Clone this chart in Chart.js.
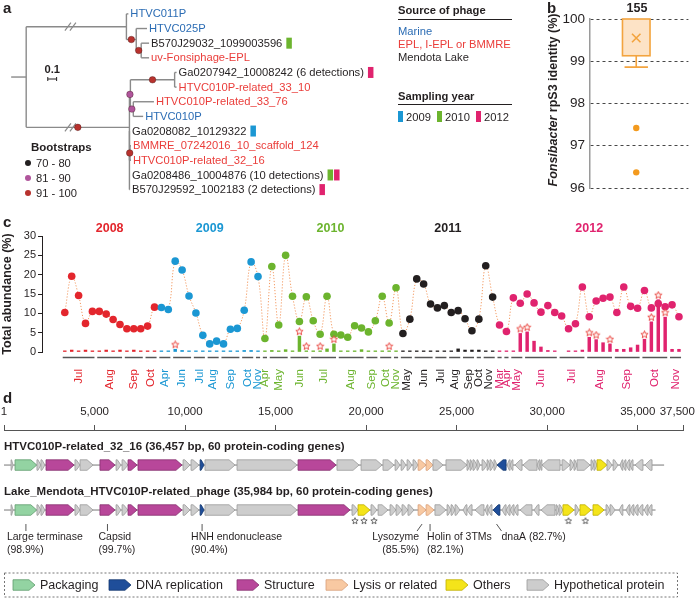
<!DOCTYPE html>
<html>
<head>
<meta charset="utf-8">
<script src="https://cdn.jsdelivr.net/npm/chart.js@4.4.1/dist/chart.umd.min.js"></script>
<style>
  body { margin: 0; background: #fff; }
  #fig { position: relative; width: 696px; height: 601px; overflow: hidden; font-family: "Liberation Sans", Arial, sans-serif; color: #231f20; }
  #fig canvas { position: absolute; }
  .tx { position: absolute; white-space: nowrap; line-height: 14px; font-size: 11.2px; }
  .bd { font-weight: bold; }
  .pl { font-weight: bold; font-size: 15px; }
  .rule { position: absolute; height: 0; border-top: 1px solid #231f20; }
  .sw { position: absolute; width: 5px; height: 11px; }
  .dot { position: absolute; width: 6px; height: 6px; border-radius: 50%; }
</style>
</head>
<body>
<div id="fig">
  <canvas id="treeChart" width="540" height="215" style="left:0;top:0"></canvas>
  <canvas id="boxChart" width="156" height="215" style="left:540px;top:0"></canvas>
  <canvas id="abundChart" width="696" height="185" style="left:0;top:215px"></canvas>
  <canvas id="genomeChart" width="696" height="206" style="left:0;top:395px"></canvas>

  <div class="tx pl" style="left:3px;top:1px">a</div>
  <div class="tx pl" style="left:547px;top:1px">b</div>
  <div class="tx pl" style="left:3px;top:215px">c</div>
  <div class="tx pl" style="left:3px;top:391px">d</div>

  <div class="tx bd" style="left:398px;top:3px">Source of phage</div>
  <div class="rule" style="left:398px;top:19px;width:114px"></div>
  <div class="tx" style="left:398px;top:24px;color:#2b6cb4">Marine</div>
  <div class="tx" style="left:398px;top:37px;color:#ea3d3a">EPL, I-EPL or BMMRE</div>
  <div class="tx" style="left:398px;top:50px">Mendota Lake</div>
  <div class="tx bd" style="left:398px;top:89px">Sampling year</div>
  <div class="rule" style="left:398px;top:104px;width:114px"></div>
  <div class="sw" style="left:398px;top:111px;background:#1b97d3"></div>
  <div class="tx" style="left:406px;top:110px">2009</div>
  <div class="sw" style="left:437px;top:111px;background:#6cb42e"></div>
  <div class="tx" style="left:445px;top:110px">2010</div>
  <div class="sw" style="left:476px;top:111px;background:#e0236e"></div>
  <div class="tx" style="left:484px;top:110px">2012</div>

  <div class="tx bd" style="left:31px;top:140px;font-size:11.5px">Bootstraps</div>
  <div class="dot" style="left:25px;top:160px;background:#231f20"></div>
  <div class="tx" style="left:36px;top:156px">70 - 80</div>
  <div class="dot" style="left:25px;top:175px;background:#b0559c"></div>
  <div class="tx" style="left:36px;top:171px">81 - 90</div>
  <div class="dot" style="left:25px;top:190px;background:#b8322e"></div>
  <div class="tx" style="left:36px;top:186px">91 - 100</div>

  <div class="tx bd" style="left:625px;top:1px;width:24px;text-align:center;font-size:12.5px">155</div>
  <div class="tx bd" style="left:453px;top:93px;width:200px;text-align:center;font-size:12.5px;transform:rotate(-90deg)"><i>Fonsibacter</i> rpS3 identity (%)</div>

  <div class="tx bd" style="left:4px;top:439px;font-size:11.5px">HTVC010P-related_32_16 (36,457 bp, 60 protein-coding genes)</div>
  <div class="tx bd" style="left:4px;top:484px;font-size:11.5px">Lake_Mendota_HTVC010P-related_phage (35,984 bp, 60 protein-coding genes)</div>
</div>

<script>
Chart.defaults.font.family = '"Liberation Sans", Arial, sans-serif';
Chart.defaults.color = '#231f20';

// ---------- a: phylogeny ----------
const tipNames = ['HTVC011P', 'HTVC025P', 'B570J29032_1099003596', 'uv-Fonsiphage-EPL',
  'Ga0207942_10008242 (6 detections)', 'HTVC010P-related_33_10', 'HTVC010P-related_33_76', 'HTVC010P',
  'Ga0208082_10129322', 'BMMRE_07242016_10_scaffold_124', 'HTVC010P-related_32_16',
  'Ga0208486_10004876 (10 detections)', 'B570J29592_1002183 (2 detections)'];
const tipSource = [0, 0, 2, 1, 2, 1, 1, 0, 2, 1, 1, 2, 2];
const tipYears = [[], [], [2010], [], [2012], [], [], [], [2009], [], [], [2010, 2012], [2012]];
const sourceColors = ['#2b6cb4', '#ea3d3a', '#231f20'];
const sampleYearColors = {2009: '#1b97d3', 2010: '#6cb42e', 2012: '#e0236e'};
const bootColors = ['', '#231f20', '#b0559c', '#b8322e'];

// branch lengths; boot: 1 = 70-80, 2 = 81-90, 3 = 91-100
const tree = {len: 0, kids: [
  {len: 1.133, kids: [
    {len: 0.022, tip: 0},
    {len: 0.111, boot: 3, kids: [
      {len: 0.122, tip: 1},
      {len: 0.056, boot: 3, kids: [{len: 0.089, tip: 2}, {len: 0.089, tip: 3}]}
    ]}
  ]},
  {len: 1.167, boot: 3, kids: [
    {len: 0.011, boot: 2, kids: [
      {len: 0.5, boot: 3, kids: [{len: 0.022, tip: 4}, {len: 0.022, tip: 5}]},
      {len: 0.033, boot: 2, kids: [{len: 0.233, tip: 6}, {len: 0.111, tip: 7}]}
    ]},
    {len: 0, kids: [
      {len: 0.006, tip: 8},
      {len: 0.006, boot: 3, kids: [{len: 0.011, tip: 9}, {len: 0.011, tip: 10}]},
      {len: 0.006, tip: 11},
      {len: 0.006, tip: 12}
    ]}
  ]}
]};

function layoutTree(n, x0) {
  n.x = x0 + n.len;
  if (n.kids) {
    n.kids.forEach(k => layoutTree(k, n.x));
    n.y = (n.kids[0].y + n.kids[n.kids.length - 1].y) / 2;
  } else {
    n.y = n.tip;
  }
}
layoutTree(tree, 0);

const bootDots = [];
(function collect(n, px) {
  if (n.boot) bootDots.push({x: (px + n.x) / 2, y: n.y, b: n.boot});
  (n.kids || []).forEach(k => collect(k, n.x));
})(tree, 0);

const treePlugin = {
  id: 'treeDraw',
  beforeDatasetsDraw(chart) {
    const {ctx, scales: {x, y}} = chart;
    const seg = (x1, y1, x2, y2) => { ctx.beginPath(); ctx.moveTo(x1, y1); ctx.lineTo(x2, y2); ctx.stroke(); };
    ctx.save();
    ctx.strokeStyle = '#8a8a8a';
    ctx.lineWidth = 1.4;
    const ry = y.getPixelForValue(tree.y);
    seg(x.getPixelForValue(-0.17), ry, x.getPixelForValue(0), ry);
    (function walk(n, px) {
      const X = x.getPixelForValue(n.x), Y = y.getPixelForValue(n.y);
      if (px !== null) seg(x.getPixelForValue(px), Y, X, Y);
      if (n.len > 1) {
        const bx = x.getPixelForValue(px + 0.5);
        ctx.save(); ctx.lineWidth = 1.2;
        [-2.5, 2.5].forEach(d => seg(bx + d - 3, Y + 4, bx + d + 3, Y - 4));
        ctx.restore();
      }
      if (n.kids) {
        seg(X, y.getPixelForValue(n.kids[0].y), X, y.getPixelForValue(n.kids[n.kids.length - 1].y));
        n.kids.forEach(k => walk(k, n.x));
      } else {
        ctx.save();
        ctx.font = '11.2px "Liberation Sans", Arial, sans-serif';
        ctx.textBaseline = 'middle';
        ctx.fillStyle = sourceColors[tipSource[n.tip]];
        ctx.fillText(tipNames[n.tip], X + 2, Y + 0.5);
        let bx = X + 2 + ctx.measureText(tipNames[n.tip]).width + 4;
        tipYears[n.tip].forEach(yr => {
          ctx.fillStyle = sampleYearColors[yr];
          ctx.fillRect(bx, Y - 5.5, 5.5, 11);
          bx += 6.5;
        });
        ctx.restore();
      }
    })(tree, null);
    // scale bar 0.1
    const s0 = x.getPixelForValue(0.244), s1 = x.getPixelForValue(0.344), sy = 79;
    ctx.strokeStyle = '#231f20'; ctx.lineWidth = 1;
    seg(s0, sy, s1, sy); seg(s0, sy - 2, s0, sy + 2); seg(s1, sy - 2, s1, sy + 2);
    ctx.fillStyle = '#231f20';
    ctx.font = 'bold 11.2px "Liberation Sans", Arial, sans-serif';
    ctx.textAlign = 'center'; ctx.textBaseline = 'middle';
    ctx.fillText('0.1', (s0 + s1) / 2, 70);
    ctx.restore();
  }
};

new Chart('treeChart', {
  type: 'scatter',
  data: {datasets: [{
    data: bootDots,
    pointRadius: 3.3,
    pointBackgroundColor: bootDots.map(d => bootColors[d.b]),
    pointBorderColor: 'rgba(60,20,20,0.6)',
    pointBorderWidth: 0.6
  }]},
  options: {
    responsive: false, animation: false, events: [],
    layout: {padding: 0},
    plugins: {legend: {display: false}, tooltip: {enabled: false}},
    scales: {
      x: {type: 'linear', display: false, min: -0.244, max: 5.756},
      y: {type: 'linear', display: false, min: -0.634, max: 13.42, reverse: true}
    }
  },
  plugins: [treePlugin]
});

// ---------- b: rpS3 identity box plot ----------
const boxQuartiles = [99.13, 100];
const boxWhiskers = [98.86, 100];
const boxMean = [99.55];
const boxOutliers = [97.42, 96.37];
const boxColor = '#f3a43f';

const boxPlugin = {
  id: 'boxDraw',
  beforeDatasetsDraw(chart) {
    const {ctx, scales: {x, y}} = chart;
    const cx = x.getPixelForValue(0.47), hw = x.getPixelForValue(0.61) - cx, cap = hw * 0.85;
    const top = y.getPixelForValue(boxQuartiles[1]), bot = y.getPixelForValue(boxQuartiles[0]);
    const wl = y.getPixelForValue(boxWhiskers[0]);
    ctx.save();
    ctx.strokeStyle = boxColor; ctx.lineWidth = 1.6;
    ctx.beginPath(); ctx.moveTo(cx, bot); ctx.lineTo(cx, wl); ctx.moveTo(cx - cap, wl); ctx.lineTo(cx + cap, wl); ctx.stroke();
    ctx.fillStyle = '#fde3c6';
    ctx.fillRect(cx - hw, top, hw * 2, bot - top);
    ctx.strokeRect(cx - hw, top, hw * 2, bot - top);
    ctx.restore();
  }
};

new Chart('boxChart', {
  type: 'scatter',
  data: {datasets: [
    {data: boxOutliers.map(v => ({x: 0.47, y: v})), pointRadius: 3.2, pointBackgroundColor: '#f39a1e', pointBorderWidth: 0},
    {data: boxMean.map(v => ({x: 0.47, y: v})), pointStyle: 'crossRot', pointRadius: 6, pointBorderColor: boxColor, pointBorderWidth: 1.6}
  ]},
  options: {
    responsive: false, animation: false, events: [],
    layout: {padding: {top: 19, bottom: 27, left: 0, right: 6}},
    plugins: {legend: {display: false}, tooltip: {enabled: false}},
    scales: {
      x: {type: 'linear', display: false, min: 0, max: 1},
      y: {
        type: 'linear', min: 96, max: 100,
        ticks: {stepSize: 1, font: {size: 13.5}, padding: 5, color: '#231f20'},
        grid: {color: '#333', lineWidth: 0.9, drawTicks: false},
        border: {display: true, color: '#9a9a9a', width: 1.5, dash: [3, 3]},
        afterFit: s => { s.width = 50; }
      }
    }
  },
  plugins: [boxPlugin]
});

// ---------- c: total abundance time series ----------
const yearNames = ['2008', '2009', '2010', '2011', '2012'];
const yearColors = ['#e3262d', '#1b97d3', '#6cb42e', '#231f20', '#e0236e'];

const total2008 = [10.2, 19.6, 14.6, 7.4, 10.5, 10.5, 9.8, 8.4, 7.1, 6.0, 6.0, 6.0, 6.7, 11.6];
const total2009 = [11.5, 11.0, 23.5, 21.2, 14.5, 10.1, 4.3, 2.1, 2.8, 2.1, 5.9, 6.1, 10.8, 23.3, 19.5];
const total2010 = [3.5, 22.1, 7.0, 25.0, 14.4, 7.9, 14.3, 8.1, 4.6, 14.4, 4.6, 4.4, 3.8, 6.8, 6.2, 5.2, 8.1, 14.4, 7.5, 16.6];
const total2011 = [4.8, 8.5, 18.9, 17.6, 12.4, 11.4, 12.0, 10.2, 10.7, 8.6, 5.5, 8.5, 22.3, 14.2];
const total2012 = [7.0, 5.3, 14.0, 12.6, 15.0, 12.7, 10.3, 12.0, 10.2, 9.3, 6.0, 7.3, 16.8, 9.1, 13.2, 13.9, 14.2, 10.2, 16.8, 11.8, 11.3, 15.9, 11.4, 12.5, 11.7, 12.2, 9.1];

const phage2008 = [0.3, 0.5, 0.3, 0.5, 0.3, 0.3, 0.5, 0.3, 0.5, 0.3, 0.5, 0.3, 0.3, 0.3];
const phage2009 = [0.3, 0.3, 0.7, 0.4, 0.3, 0.3, 0.3, 0.3, 0.3, 0.3, 0.3, 0.3, 0.4, 0.4, 0.3];
const phage2010 = [0.3, 0.4, 0.3, 0.6, 0.3, 4.1, 0.3, 0.3, 0.3, 0.8, 2.1, 0.3, 0.3, 0.3, 0.6, 0.3, 0.3, 0.3, 0.3, 0.3];
const phage2011 = [0.3, 0.3, 0.3, 0.3, 0.3, 0.3, 0.3, 0.3, 0.8, 0.5, 0.5, 0.5, 0.3, 0.3];
const phage2012 = [0.3, 0.3, 0.3, 4.8, 5.2, 2.8, 1.3, 0.4, 0.3, null, 0.3, 0.3, 0.5, 3.8, 3.2, 2.4, 2.1, 0.7, 0.7, 1.1, 1.8, 3.3, 7.8, 13.5, 9.0, 0.7, 0.7];

// samples flagged with a star (index within the year)
const stars2008 = [];
const stars2009 = [2];
const stars2010 = [5, 6, 8, 10, 18];
const stars2011 = [];
const stars2012 = [3, 4, 13, 14, 16, 21, 22, 23, 24];

// month, number of samples
const months2008 = [['Jul', 5], ['Aug', 4], ['Sep', 3], ['Oct', 2]];
const months2009 = [['Apr', 2], ['Jun', 3], ['Jul', 2], ['Aug', 2], ['Sep', 3], ['Oct', 2], ['Nov', 1]];
const months2010 = [['Apr', 1], ['May', 3], ['Jun', 3], ['Jul', 4], ['Aug', 4], ['Sep', 2], ['Oct', 2], ['Nov', 1]];
const months2011 = [['May', 2], ['Jun', 3], ['Jul', 2], ['Aug', 2], ['Sep', 2], ['Oct', 1], ['Nov', 2]];
const months2012 = [['Mar', 1], ['Apr', 1], ['May', 2], ['Jun', 5], ['Jul', 4], ['Aug', 4], ['Sep', 4], ['Oct', 4], ['Nov', 2]];

const totalsByYear = [total2008, total2009, total2010, total2011, total2012];
const phageByYear = [phage2008, phage2009, phage2010, phage2011, phage2012];
const starsByYear = [stars2008, stars2009, stars2010, stars2011, stars2012];
const monthsByYear = [months2008, months2009, months2010, months2011, months2012];

const sampleYear = [], totalPts = [], phagePts = [], starPts = [], yearSpans = [];
totalsByYear.forEach((arr, yi) => {
  const first = sampleYear.length;
  arr.forEach((v, j) => {
    const i = sampleYear.length;
    sampleYear.push(yi);
    totalPts.push({x: i, y: v});
    phagePts.push({x: i, y: phageByYear[yi][j]});
    if (starsByYear[yi].includes(j)) starPts.push({x: i, y: phageByYear[yi][j]});
  });
  yearSpans.push([first, sampleYear.length - 1]);
});
const monthTicks = [];
monthsByYear.forEach((ms, yi) => {
  let i = yearSpans[yi][0];
  ms.forEach(([name, n]) => {
    monthTicks.push({label: name, yi, first: i, last: i + n - 1, center: i + (n - 1) / 2});
    i += n;
  });
});

function makeStar(size, h, stroke, fill) {
  const c = document.createElement('canvas');
  c.width = size; c.height = h;
  const g = c.getContext('2d');
  const cx = size / 2, cy = size / 2, R = size / 2 - 0.7, r = R * 0.45;
  g.beginPath();
  for (let k = 0; k < 10; k++) {
    const a = -Math.PI / 2 + k * Math.PI / 5, rr = k % 2 ? r : R;
    g.lineTo(cx + rr * Math.cos(a), cy + rr * Math.sin(a));
  }
  g.closePath();
  g.fillStyle = fill; g.fill();
  g.strokeStyle = stroke; g.lineWidth = 0.9; g.stroke();
  return c;
}
const redStar = makeStar(9, 18, '#e8403a', '#fff4f2');

const monthBarsPlugin = {
  id: 'monthBars',
  afterDraw(chart) {
    const {ctx, chartArea, scales: {x}} = chart;
    ctx.save();
    ctx.strokeStyle = '#555'; ctx.lineWidth = 1.5;
    const yy = chartArea.bottom + 5.5;
    monthTicks.forEach(m => {
      ctx.beginPath();
      ctx.moveTo(x.getPixelForValue(m.first - 0.3), yy);
      ctx.lineTo(x.getPixelForValue(m.last + 0.3), yy);
      ctx.stroke();
    });
    ctx.font = 'bold 12.5px "Liberation Sans", Arial, sans-serif';
    ctx.textAlign = 'center'; ctx.textBaseline = 'middle';
    yearSpans.forEach(([a, b], yi) => {
      ctx.fillStyle = yearColors[yi];
      ctx.fillText(yearNames[yi], x.getPixelForValue((a + b) / 2), chartArea.top - 7);
    });
    ctx.restore();
  }
};

new Chart('abundChart', {
  type: 'bar',
  data: {datasets: [
    {type: 'scatter', data: starPts, pointStyle: redStar, order: 1},
    {type: 'line', data: totalPts, order: 2,
      borderColor: '#f39a62', borderWidth: 1, borderDash: [1.2, 1.8], tension: 0.4,
      pointRadius: 3.8, pointBackgroundColor: sampleYear.map(yi => yearColors[yi]), pointBorderWidth: 0},
    {type: 'bar', data: phagePts, order: 3, barThickness: 2.8,
      backgroundColor: sampleYear.map(yi => yearColors[yi])}
  ]},
  options: {
    responsive: false, animation: false, events: [],
    layout: {padding: {top: 21, right: 0, left: 0, bottom: 0}},
    plugins: {legend: {display: false}, tooltip: {enabled: false}},
    scales: {
      x: {
        type: 'linear', min: -1.96, max: 89.4,
        grid: {display: false}, border: {display: false},
        afterBuildTicks: s => { s.ticks = monthTicks.map(m => ({value: m.center})); },
        ticks: {
          autoSkip: false, minRotation: 90, maxRotation: 90, padding: 9,
          font: {size: 11.5},
          color: c => yearColors[monthTicks[c.index] ? monthTicks[c.index].yi : 0],
          callback: (v, i) => monthTicks[i] ? monthTicks[i].label : ''
        },
        afterFit: s => { s.height = 48; s.paddingLeft = 0; s.paddingRight = 0; }
      },
      y: {
        min: 0, max: 30,
        ticks: {stepSize: 5, font: {size: 11}, padding: 2, color: '#231f20'},
        grid: {drawOnChartArea: false, drawTicks: true, tickLength: 4, color: '#231f20'},
        border: {display: true, color: '#231f20', width: 1},
        title: {display: true, text: 'Total abundance (%)', font: {size: 12.5, weight: 'bold'}, padding: {top: 0, bottom: 0}},
        afterFit: s => { s.width = 42; }
      }
    }
  },
  plugins: [monthBarsPlugin]
});

// ---------- d: genome maps ----------
const genomeLengths = [36457, 35984];
const categoryNames = ['Packaging', 'DNA replication', 'Structure', 'Lysis or related', 'Others', 'Hypothetical protein'];
const categoryFill = ['#93d3a2', '#1f4e9a', '#b8479a', '#f8c9a2', '#f4e41a', '#cdcdcd'];
const categoryStroke = ['#5e9c6c', '#14386f', '#86306f', '#d8a07a', '#bfae00', '#9a9a9a'];

// [start kb, end kb, strand, category]
const genesShared = [
  [0.39, 0.50, 1, 5], [0.61, 1.81, 1, 0], [1.82, 2.04, 1, 5], [2.04, 2.26, 1, 5], [2.32, 3.87, 1, 2],
  [3.92, 4.20, 1, 5], [4.20, 4.92, 1, 5], [5.30, 6.13, 1, 2], [6.19, 6.46, 1, 5], [6.52, 6.85, 1, 5],
  [6.85, 7.35, 1, 2], [7.40, 9.83, 1, 2], [9.89, 10.27, 1, 5], [10.33, 10.77, 1, 5], [10.83, 11.05, 1, 1],
  [11.10, 12.76, 1, 5], [12.87, 16.18, 1, 5]
];
const genesA = genesShared.concat([
  [16.24, 18.34, 1, 2], [18.39, 19.61, 1, 5], [19.72, 20.88, 1, 5], [20.93, 21.54, 1, 5],
  [21.60, 21.87, 1, 5], [21.93, 22.20, 1, 5], [22.26, 22.53, 1, 5], [22.59, 22.87, 1, 5],
  [22.87, 23.31, 1, 3], [23.31, 23.69, 1, 3], [23.69, 24.25, 1, 5], [24.41, 25.57, 1, 5],
  [25.57, 25.74, 1, 5], [25.74, 25.90, 1, 5], [25.90, 26.12, 1, 5], [26.12, 26.29, 1, 5],
  [26.40, 26.68, 1, 5], [26.68, 26.84, 1, 5], [26.84, 27.06, 1, 5], [27.06, 27.23, 1, 5],
  [27.23, 27.73, -1, 1], [27.78, 27.95, -1, 5], [27.95, 28.11, -1, 5], [28.22, 28.61, -1, 5],
  [28.66, 29.44, -1, 5], [29.44, 29.60, -1, 5], [29.60, 29.71, -1, 5], [29.71, 30.71, -1, 5],
  [30.82, 31.26, 1, 5], [31.26, 31.48, 1, 5], [31.48, 31.65, 1, 5], [31.65, 32.37, 1, 5],
  [32.42, 32.58, 1, 5], [32.58, 32.75, 1, 5], [32.75, 33.30, 1, 4], [33.30, 33.58, 1, 5],
  [33.64, 33.91, 1, 5], [34.02, 34.18, -1, 5], [34.18, 34.35, -1, 5], [34.35, 34.57, -1, 5],
  [34.57, 34.74, -1, 5], [34.85, 35.29, -1, 5], [35.40, 35.79, -1, 5]
]);
const genesB = genesShared.concat([
  [16.24, 19.11, 1, 2], [19.22, 19.55, 1, 5], [19.55, 20.21, 1, 4], [20.27, 20.60, 1, 5],
  [20.66, 21.21, 1, 5], [21.32, 21.65, 1, 5], [21.65, 21.98, 1, 5], [21.98, 22.31, 1, 5],
  [22.31, 22.64, 1, 5], [22.87, 23.31, 1, 3], [23.31, 23.75, 1, 3], [23.80, 24.41, 1, 5],
  [24.47, 24.69, 1, 5], [24.69, 24.91, 1, 5], [24.91, 25.18, 1, 5], [25.35, 25.57, -1, 5],
  [25.57, 25.85, -1, 5], [26.01, 26.51, -1, 5], [26.57, 26.73, -1, 5], [26.73, 26.95, -1, 5],
  [27.01, 27.39, -1, 1], [27.50, 27.73, -1, 5], [27.73, 27.95, -1, 5], [27.95, 28.17, -1, 5],
  [28.17, 28.39, -1, 5], [28.50, 29.16, -1, 5], [29.27, 29.55, -1, 5], [29.66, 30.43, -1, 5],
  [30.49, 30.65, 1, 5], [30.65, 30.87, 1, 5], [30.87, 31.48, 1, 4], [31.54, 31.76, 1, 5],
  [31.81, 32.42, 1, 4], [32.53, 33.14, 1, 4], [33.25, 33.47, 1, 5], [33.47, 33.75, 1, 5],
  [33.97, 34.18, -1, 5], [34.35, 34.57, -1, 5], [34.57, 34.79, -1, 5], [34.79, 35.02, -1, 5],
  [35.02, 35.29, -1, 5], [35.35, 35.57, -1, 5], [35.57, 35.79, -1, 5]
]);
const starredGenesB = [18, 19, 20, 47, 49];
const annotGenesB = [1, 7, 14, 26, 27, 37];
const annotLabels = [['Large terminase', '(98.9%)'], ['Capsid', '(99.7%)'], ['HNH endonuclease', '(90.4%)'],
  ['Lysozyme', '(85.5%)'], ['Holin of 3TMs', '(82.1%)'], ['dnaA (82.7%)', '']];
const axisTicksBp = [1, 5000, 10000, 15000, 20000, 25000, 30000, 35000, 37500];

// layout of the annotation labels (px)
const annotLean = [0, 0, 0, -5, 0, 5];
const annotShift = [-19, -9, -11, 2, -3, 0];
const annotAlign = ['left', 'left', 'left', 'right', 'left', 'left'];
const legendX = [13, 109, 237, 326, 446, 527];
const rowY = [2.05, 4.68];

const greyStar = makeStar(8, 8, '#555', '#fff');

function geneArrow(ctx, x1, x2, y, strand, cat, h) {
  const len = x2 - x1, head = Math.min(6, len * 0.75), hh = h / 2;
  ctx.beginPath();
  if (strand > 0) {
    ctx.moveTo(x1, y - hh); ctx.lineTo(x2 - head, y - hh); ctx.lineTo(x2, y);
    ctx.lineTo(x2 - head, y + hh); ctx.lineTo(x1, y + hh);
  } else {
    ctx.moveTo(x2, y - hh); ctx.lineTo(x1 + head, y - hh); ctx.lineTo(x1, y);
    ctx.lineTo(x1 + head, y + hh); ctx.lineTo(x2, y + hh);
  }
  ctx.closePath();
  ctx.fillStyle = categoryFill[cat]; ctx.fill();
  ctx.strokeStyle = categoryStroke[cat]; ctx.lineWidth = 0.8; ctx.stroke();
}

const genomePlugin = {
  id: 'genomeDraw',
  afterDraw(chart) {
    const {ctx, chartArea, scales: {x, y}} = chart;
    const px = kb => x.getPixelForValue(kb * 1000);
    ctx.save();
    [genesA, genesB].forEach((genes, r) => {
      const Y = y.getPixelForValue(rowY[r]);
      ctx.strokeStyle = '#777'; ctx.lineWidth = 1;
      ctx.beginPath(); ctx.moveTo(x.getPixelForValue(0), Y); ctx.lineTo(x.getPixelForValue(genomeLengths[r]), Y); ctx.stroke();
      genes.forEach(g => geneArrow(ctx, px(g[0]), px(g[1]), Y, g[2], g[3], 10.5));
    });
    const Y2 = y.getPixelForValue(rowY[1]);
    starredGenesB.forEach(i => {
      const cx = (px(genesB[i][0]) + px(genesB[i][1])) / 2;
      ctx.drawImage(greyStar, cx - 4, Y2 + 7);
    });
    ctx.font = '10.5px "Liberation Sans", Arial, sans-serif';
    ctx.textBaseline = 'middle';
    ctx.fillStyle = '#231f20';
    annotGenesB.forEach((gi, k) => {
      const cx = (px(genesB[gi][0]) + px(genesB[gi][1])) / 2;
      const bx = cx + annotLean[k];
      ctx.strokeStyle = '#444'; ctx.lineWidth = 0.9;
      ctx.beginPath(); ctx.moveTo(cx, Y2 + 14); ctx.lineTo(bx, Y2 + 21); ctx.stroke();
      ctx.textAlign = annotAlign[k];
      ctx.fillText(annotLabels[k][0], bx + annotShift[k], Y2 + 27);
      if (annotLabels[k][1]) ctx.fillText(annotLabels[k][1], bx + annotShift[k], Y2 + 40);
    });
    // legend
    const ly = chartArea.bottom - 16;
    ctx.strokeStyle = '#666'; ctx.lineWidth = 0.9; ctx.setLineDash([2, 2]);
    ctx.strokeRect(4.5, ly - 12, 673, 24);
    ctx.setLineDash([]);
    ctx.font = '12.5px "Liberation Sans", Arial, sans-serif';
    ctx.textAlign = 'left';
    categoryNames.forEach((name, c) => {
      geneArrow(ctx, legendX[c], legendX[c] + 22, ly, 1, c, 10.5);
      ctx.fillStyle = '#231f20';
      ctx.fillText(name, legendX[c] + 27, ly + 0.5);
    });
    ctx.restore();
  }
};

new Chart('genomeChart', {
  type: 'scatter',
  data: {datasets: []},
  options: {
    responsive: false, animation: false, events: [],
    layout: {padding: {left: 4, right: 13, top: 0, bottom: 0}},
    plugins: {legend: {display: false}, tooltip: {enabled: false}},
    scales: {
      x: {
        type: 'linear', position: 'top', min: 0, max: 37500,
        afterBuildTicks: s => { s.ticks = axisTicksBp.map(v => ({value: v})); },
        ticks: {font: {size: 11.5}, color: '#231f20', padding: 6, maxRotation: 0,
          // the last label sits a little left of its tick so it stays inside the figure
          callback: v => v.toLocaleString('en-US') + (v === 37500 ? '\u2002\u2002' : '')},
        grid: {drawOnChartArea: false, drawTicks: true, tickLength: 5, color: '#555'},
        border: {display: true, color: '#555', width: 1},
        afterFit: s => { s.height = 35; s.paddingLeft = 0; s.paddingRight = 0; }
      },
      y: {type: 'linear', display: false, min: 0, max: 10, reverse: true}
    }
  },
  plugins: [genomePlugin]
});
</script>
</body>
</html>
